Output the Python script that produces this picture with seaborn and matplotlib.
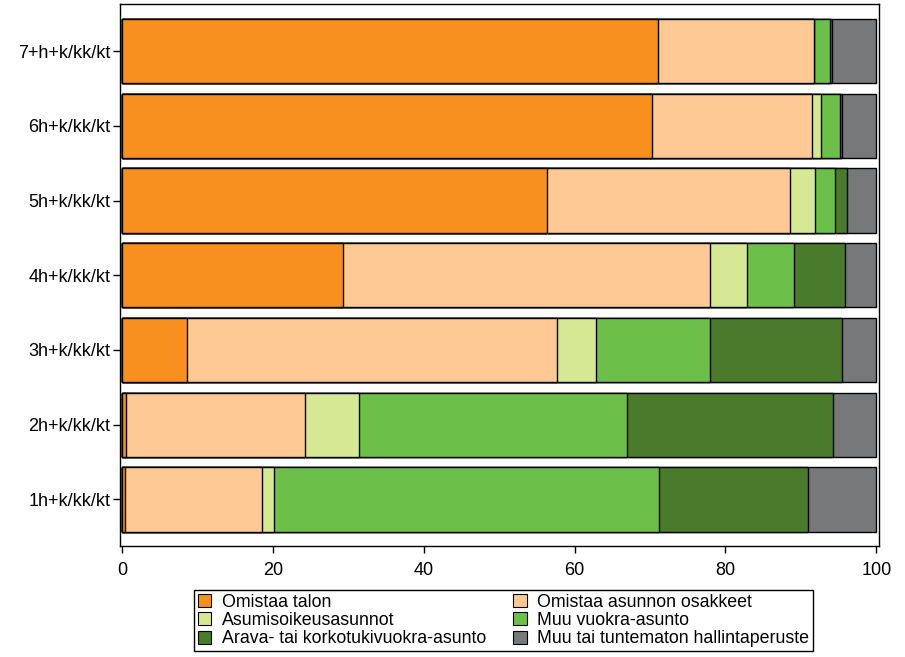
import numpy as np
import pandas as pd
from matplotlib import pyplot as plt
from matplotlib.patches import Patch
import seaborn as sns

# huoneistotyypit ylhäältä alas
labels = ['7+h+k/kk/kt', '6h+k/kk/kt', '5h+k/kk/kt', '4h+k/kk/kt',
          '3h+k/kk/kt', '2h+k/kk/kt', '1h+k/kk/kt']

# osuudet (%) kullekin hallintaperusteelle
omistaa_talon = [71.0, 70.3, 56.4, 29.3, 8.6, 0.6, 0.4]
omistaa_osakkeet = [20.8, 21.2, 32.2, 48.6, 49.1, 23.7, 18.2]
asumisoikeus = [0.0, 1.1, 3.3, 4.9, 5.1, 7.2, 1.6]
muu_vuokra = [2.0, 2.6, 2.6, 6.3, 15.1, 35.5, 51.0]
arava = [0.35, 0.2, 1.6, 6.8, 17.6, 27.2, 19.8]
muu_tai = [5.85, 4.6, 3.9, 4.1, 4.5, 5.8, 9.0]

series = ['Omistaa talon', 'Omistaa asunnon osakkeet', 'Asumisoikeusasunnot',
          'Muu vuokra-asunto', 'Arava- tai korkotukivuokra-asunto',
          'Muu tai tuntematon hallintaperuste']
colors = ['#F8901F', '#FEC994', '#D6E894', '#6CC04A', '#4A7A2C', '#76787A']

df = pd.DataFrame({
    'tyyppi': labels,
    series[0]: omistaa_talon,
    series[1]: omistaa_osakkeet,
    series[2]: asumisoikeus,
    series[3]: muu_vuokra,
    series[4]: arava,
    series[5]: muu_tai,
})
cum = df[series].cumsum(axis=1)
cum['tyyppi'] = labels

sns.set_style("white")
plt.rcParams['font.family'] = ['Liberation Sans', 'DejaVu Sans']
plt.rcParams['text.color'] = 'black'
plt.rcParams['xtick.color'] = 'black'
plt.rcParams['ytick.color'] = 'black'

fig = plt.figure(figsize=(9.05, 6.57), dpi=100)
ax = fig.add_axes([0.1326, 0.1682, 0.9717 - 0.1326, 0.9939 - 0.1682])

# pinotaan: pisin kumulatiivinen ensin, lyhyemmät päälle
for name, col in reversed(list(zip(series, colors))):
    sns.barplot(data=cum, x=name, y='tyyppi', order=labels, orient='h',
                color=col, saturation=1, width=0.86, errorbar=None,
                edgecolor='black', linewidth=1, ax=ax)

ax.set_xlim(-0.24, 100.4)
ax.set_ylim(6.63, -0.63)
ax.set_xticks([0, 20, 40, 60, 80, 100])
ax.set_xlabel('')
ax.set_ylabel('')
for s in ax.spines.values():
    s.set_visible(True)
    s.set_color('black')
    s.set_linewidth(1)
ax.tick_params(axis='both', direction='out', length=5, width=1, color='black',
               labelcolor='black', labelsize=13, bottom=True, left=True)
ax.tick_params(axis='y', pad=2)
ax.tick_params(axis='x', pad=6)

handles = [Patch(facecolor=c, edgecolor='black', linewidth=0.8) for c in colors]
order = [0, 2, 4, 1, 3, 5]
leg = fig.legend([handles[i] for i in order], [series[i] for i in order],
                 loc='upper center', bbox_to_anchor=(503.5 / 905, 1 - 590 / 657),
                 ncol=2, fontsize=12.8, frameon=True, fancybox=False,
                 edgecolor='black', framealpha=1, handlelength=0.78,
                 handleheight=0.78, handletextpad=0.6, columnspacing=1.5,
                 labelspacing=0.08, borderpad=0.2, borderaxespad=0)
leg.get_frame().set_linewidth(1)

plt.savefig('out.png', dpi=100)
